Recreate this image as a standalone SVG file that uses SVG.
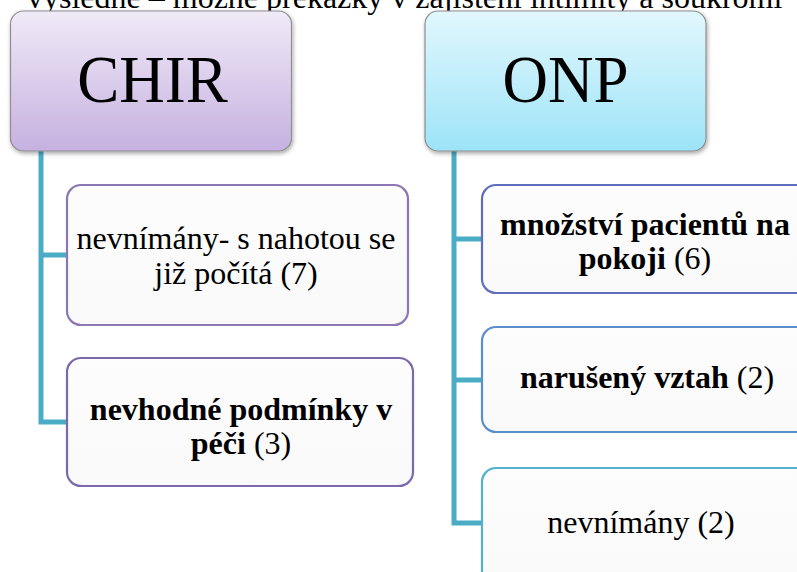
<svg xmlns="http://www.w3.org/2000/svg" width="797" height="572" viewBox="0 0 797 572">
  <defs>
    <linearGradient id="gradChir" x1="0" y1="0" x2="0" y2="1">
      <stop offset="0" stop-color="#f0eaf8"/>
      <stop offset="1" stop-color="#c6b1e0"/>
    </linearGradient>
    <linearGradient id="gradOnp" x1="0" y1="0" x2="0" y2="1">
      <stop offset="0" stop-color="#e2f7fd"/>
      <stop offset="1" stop-color="#9de4f8"/>
    </linearGradient>
    <linearGradient id="gradLeaf" x1="0" y1="0" x2="0" y2="1">
      <stop offset="0" stop-color="#fdfdfd"/>
      <stop offset="1" stop-color="#f9f9f9"/>
    </linearGradient>
    <filter id="shadow" x="-10%" y="-10%" width="125%" height="130%">
      <feDropShadow dx="1" dy="2" stdDeviation="2" flood-color="#000" flood-opacity="0.35"/>
    </filter>
  </defs>
  <style>
    text { font-family: 'Liberation Serif', 'DejaVu Serif', serif; fill: #000; }
    .caption { font-size: 32px; }
    .head { font-size: 63px; text-anchor: middle; }
    .label { font-size: 32px; text-anchor: middle; }
    .b { font-weight: bold; }
    .header-box { stroke: #8e8e8e; stroke-width: 1.2; filter: url(#shadow); }
    .leaf { fill: url(#gradLeaf); stroke-width: 2.2; }
    .conn { fill: none; stroke: #4bacc6; stroke-width: 5; stroke-linejoin: miter; stroke-linecap: butt; }
  </style>

  <rect width="797" height="572" fill="#ffffff"/>

  <!-- running caption line, clipped at the top edge -->
  <text class="caption" x="27" y="8" font-family="Liberation Serif, serif">výsledné – možné překážky v zajištění intimity a soukromí</text>

  <!-- connectors -->
  <g id="connectors">
    <path class="conn" d="M41 151 V422 H67"/>
    <path class="conn" d="M41 255 H67"/>
    <path class="conn" d="M454 151 V523 H482"/>
    <path class="conn" d="M454 239 H482"/>
    <path class="conn" d="M454 380 H482"/>
  </g>

  <!-- CHIR branch -->
  <g id="chir">
    <rect class="header-box" x="10.5" y="11" width="281" height="140" rx="13" fill="url(#gradChir)"/>
    <g transform="translate(152.5 102) scale(1 1.08)"><text class="head" x="0" y="0" font-family="Liberation Serif, serif">CHIR</text></g>
  </g>

  <g id="chir-nevnimany">
    <rect class="leaf" x="67" y="185" width="341" height="140" rx="14" stroke="#8c76b4"/>
    <text class="label" x="236" y="249" font-family="Liberation Serif, serif">nevnímány- s nahotou se</text>
    <text class="label" x="236" y="284" font-family="Liberation Serif, serif">již počítá (7)</text>
  </g>

  <g id="chir-podminky">
    <rect class="leaf" x="67" y="358" width="346" height="128" rx="14" stroke="#7d68ad"/>
    <text class="label" x="241" y="420" font-family="Liberation Serif, serif"><tspan class="b">nevhodné podmínky v</tspan></text>
    <text class="label" x="241" y="454" font-family="Liberation Serif, serif"><tspan class="b">péči</tspan> (3)</text>
  </g>

  <!-- ONP branch -->
  <g id="onp">
    <rect class="header-box" x="425" y="11" width="281" height="140" rx="13" fill="url(#gradOnp)"/>
    <g transform="translate(565.5 102) scale(1 1.08)"><text class="head" x="0" y="0" font-family="Liberation Serif, serif">ONP</text></g>
  </g>

  <g id="onp-pacienti">
    <rect class="leaf" x="482" y="185" width="332" height="108" rx="14" stroke="#5d6ebf"/>
    <text class="label" x="645" y="235" font-family="Liberation Serif, serif"><tspan class="b">množství pacientů na</tspan></text>
    <text class="label" x="645" y="269" font-family="Liberation Serif, serif"><tspan class="b">pokoji</tspan> (6)</text>
  </g>

  <g id="onp-vztah">
    <rect class="leaf" x="482" y="327" width="332" height="105" rx="14" stroke="#5a8fcb"/>
    <text class="label" x="647" y="388" font-family="Liberation Serif, serif"><tspan class="b">narušený vztah</tspan> (2)</text>
  </g>

  <g id="onp-nevnimany">
    <rect class="leaf" x="482" y="468" width="332" height="120" rx="14" stroke="#50b2cb"/>
    <text class="label" x="641" y="533" font-family="Liberation Serif, serif">nevnímány (2)</text>
  </g>
</svg>
